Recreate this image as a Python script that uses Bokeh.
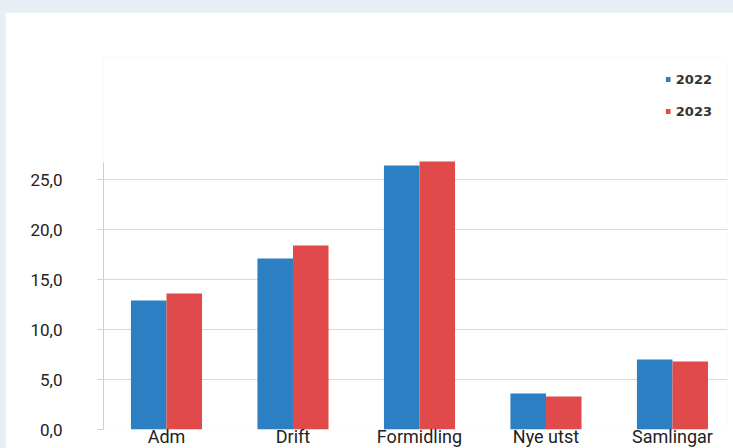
from bokeh.plotting import figure
from bokeh.models import (Range1d, FixedTicker, ColumnDataSource, Legend, LegendItem,
                          GlobalInlineStyleSheet)
from bokeh.transform import dodge
from bokeh.embed import file_html
from bokeh.resources import INLINE

categories = ["Adm", "Drift", "Formidling", "Nye utst", "Samlingar"]
values_2022 = [12.9, 17.1, 26.4, 3.6, 7.0]
values_2023 = [13.6, 18.4, 26.8, 3.3, 6.8]
years = ["2022", "2023"]
y_ticks = [0, 5, 10, 15, 20, 25]
y_tick_labels = ["0,0", "5,0", "10,0", "15,0", "20,0", "25,0"]
y_axis_top = 26.7

BLUE = "#2B7FC2"
RED = "#E04A4B"

src = ColumnDataSource(dict(x=list(range(len(categories))), v22=values_2022, v23=values_2023))

p = figure(frame_width=624, frame_height=373,
           x_range=Range1d(-0.498, 4.435), y_range=Range1d(0, 37.3),
           output_backend="svg", toolbar_location=None,
           min_border_left=98, min_border_top=44, min_border_right=6, min_border_bottom=0,
           background_fill_color="#FFFFFF", border_fill_color="#FFFFFF",
           outline_line_color=None)

r1 = p.vbar(x=dodge("x", -0.1405), top="v22", width=0.281, source=src,
            fill_color=BLUE, line_color=None)
r2 = p.vbar(x=dodge("x", 0.1405), top="v23", width=0.281, source=src,
            fill_color=RED, line_color=None)

# x axis
p.xaxis.ticker = FixedTicker(ticks=list(range(len(categories))))
p.xaxis.major_label_overrides = {i: c for i, c in enumerate(categories)}
p.xaxis.axis_line_color = None
p.xaxis.major_tick_line_color = None
p.xaxis.minor_tick_line_color = None
p.xaxis.major_label_standoff = -4
p.xaxis.major_tick_out = 0
p.xaxis.major_label_text_font = "Roboto"
p.xaxis.major_label_text_font_size = "18px"
p.xaxis.major_label_text_color = "#222222"

# y axis
p.yaxis.ticker = FixedTicker(ticks=y_ticks)
p.yaxis.bounds = (0, y_axis_top)
p.yaxis.major_label_overrides = {t: l for t, l in zip(y_ticks, y_tick_labels)}
p.yaxis.axis_line_color = "#cfcfcf"
p.yaxis.major_tick_line_color = "#d4d4d4"
p.yaxis.major_tick_out = 6
p.yaxis.major_tick_in = 0
p.yaxis.minor_tick_line_color = None
p.yaxis.major_label_standoff = 35
p.yaxis.major_label_text_font = "Roboto"
p.yaxis.major_label_text_font_size = "17px"
p.yaxis.major_label_text_color = "#222222"

p.xgrid.grid_line_color = None
p.ygrid.ticker = FixedTicker(ticks=y_ticks[1:])
p.ygrid.grid_line_color = "#d9d9d9"

legend = Legend(items=[LegendItem(label=years[0], renderers=[r1]),
                       LegendItem(label=years[1], renderers=[r2])],
                location="top_right", orientation="vertical",
                glyph_width=6, glyph_height=6, label_height=16, label_standoff=5,
                spacing=16, padding=0, margin=15,
                border_line_color=None, background_fill_alpha=0,
                label_text_font="DejaVu Sans", label_text_font_style="bold",
                label_text_font_size="13px", label_text_color="#333333")
p.add_layout(legend)

p.stylesheets = [GlobalInlineStyleSheet(
    css="body{margin:12px 0 0 5px !important;background:#E8EEF6;overflow:hidden;}")]

open("out.html", "w").write(file_html(p, INLINE))
